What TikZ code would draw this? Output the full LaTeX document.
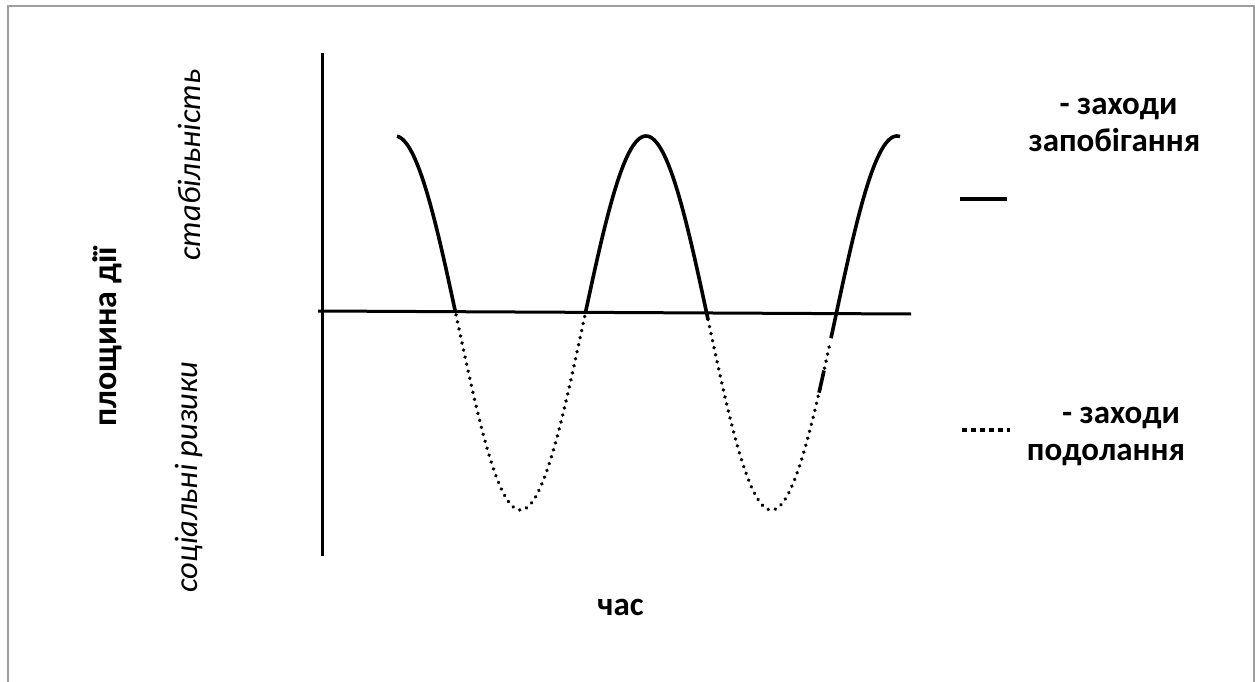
\documentclass[tikz,border=0pt]{standalone}
\usepackage{fontspec}
\setmainfont{Carlito}
\begin{document}
\begin{tikzpicture}[x=1pt,y=-1pt,
  axisline/.style={line width=3pt},
  curve/.style={line width=3.6pt},
  dotcurve/.style={line width=3.8pt,line cap=round,dash pattern=on 0.01pt off 7.2pt},
  boldlbl/.style={font=\fontsize{33}{38}\selectfont\bfseries,inner sep=0pt,anchor=base},
  itlbl/.style={font=\fontsize{32.5}{38}\selectfont\itshape,inner sep=0pt,rotate=90,anchor=base}
]
\useasboundingbox (0,0) rectangle (1255,682);
\fill[white] (0,0) rectangle (1255,682);
\draw[line width=1.2pt,color=black!38] (8,700) -- (8,6) -- (1254,6) -- (1254,700);
% axes
\coordinate (ytop) at (322,53);
\coordinate (ybot) at (322,556);
\coordinate (xl) at (318,311);
\coordinate (xr) at (911,314);
\draw[axisline] (ytop) -- (ybot);
\draw[axisline] (xl) -- (xr);
% curve, solid above the axis
\draw[curve] plot[domain=397:455.5,samples=40,smooth] (\x,{323-187*cos((\x-646)/251*360)});
\draw[curve] plot[domain=585.5:708,samples=60,smooth] (\x,{323-187*cos((\x-646)/251*360)});
\draw[curve] plot[domain=831:900,samples=40,smooth] (\x,{323-187*cos((\x-646)/251*360)});
\draw[curve] plot[domain=819:824,samples=5,smooth] (\x,{323-187*cos((\x-646)/251*360)});
% dotted below the axis
\draw[dotcurve] plot[domain=456:585,samples=80,smooth] (\x,{323-187*cos((\x-646)/251*360)});
\draw[dotcurve] plot[domain=708:830,samples=80,smooth] (\x,{323-187*cos((\x-646)/251*360)});
% legend
\coordinate (ls1) at (960,199);
\coordinate (ls2) at (1007,199);
\draw[line width=4pt] (ls1) -- (ls2);
\coordinate (ld1) at (962,430);
\coordinate (ld2) at (1010,430);
\draw[line width=4pt,dash pattern=on 5pt off 4pt] (ld1) -- (ld2);
\node[boldlbl] (l1a) at (1118.5,115) {- заходи};
\node[boldlbl] (l1b) at (1114.5,151.5) {запобігання};
\node[boldlbl] (l2a) at (1121,423) {- заходи};
\node[boldlbl] (l2b) at (1106,460) {подолання};
% axis labels
\node[boldlbl,rotate=90,font=\fontsize{34}{40}\selectfont\bfseries] (ylab) at (116.5,337) {площина дії};
\node[itlbl] (stab) at (200,165) {стабільність};
\node[itlbl] (risk) at (197,477) {соціальні ризики};
\node[boldlbl] (time) at (620.5,615) {час};
\end{tikzpicture}
\end{document}
